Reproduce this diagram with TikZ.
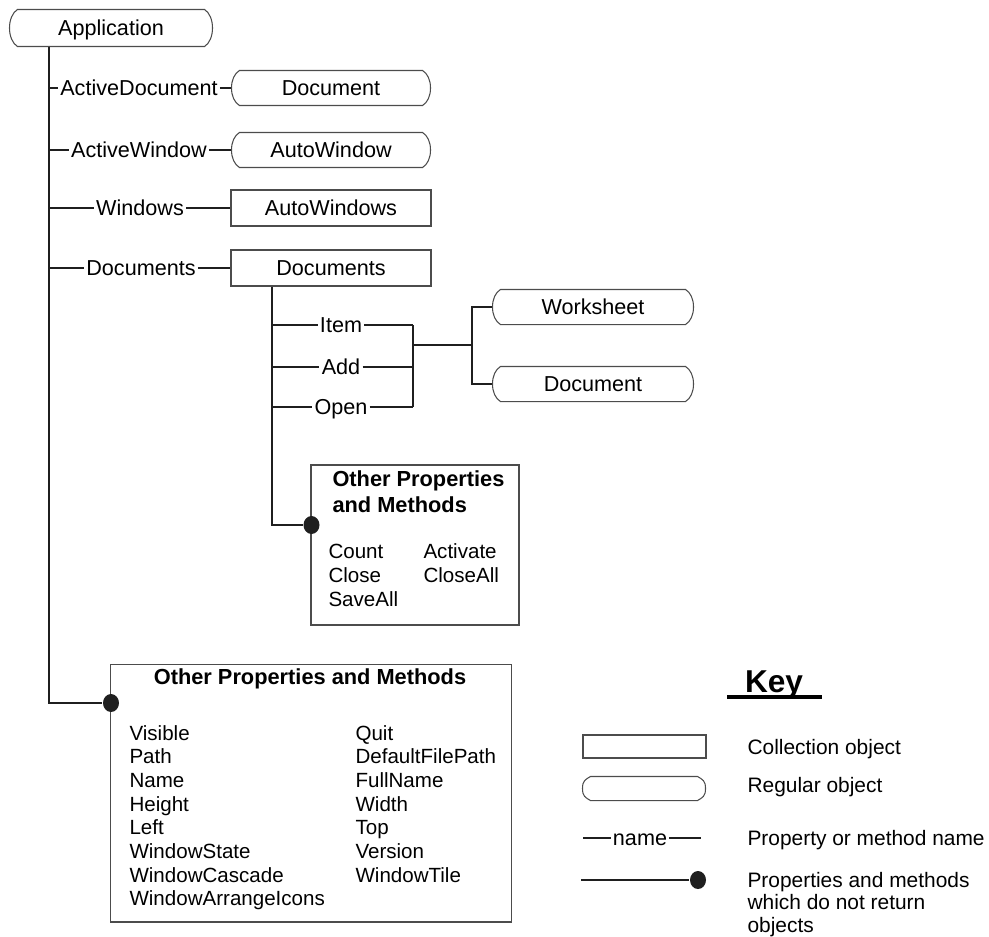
\documentclass[tikz,border=0pt]{standalone}
\usepackage{fontspec}
\setmainfont{Liberation Sans}
\usetikzlibrary{calc,shapes.geometric}
\definecolor{framegray}{gray}{0.3}
\definecolor{linegray}{gray}{0.12}
\newcommand\lblsize{\fontsize{12.3}{14}\selectfont}
\newcommand\lstsize{\fontsize{11.7}{13.5}\selectfont}
\newcommand\hdsize{\fontsize{12.4}{14.6}\selectfont\bfseries}
\newcommand\keysize{\fontsize{11.9}{13}\selectfont}

\begin{document}
\begin{tikzpicture}[x=0.02cm,y=-0.02cm,line width=0.6pt,
  lbl/.style={font=\lblsize,inner sep=1pt,text height=8.8pt,text depth=0pt},
  regobj/.style={lbl,inner sep=0pt,minimum width=3.96cm,minimum height=0.68cm},
  collobj/.style={lbl,draw=framegray,inner sep=0pt,minimum width=4cm,minimum height=0.72cm},
  frame/.style={draw=framegray},
  conn/.style={draw=linegray},
  lst/.style={font=\lstsize,anchor=base west,inner sep=0pt},
  hd/.style={font=\hdsize,inner sep=0pt},
  keytxt/.style={font=\keysize,anchor=west,inner sep=0pt,text height=8.5pt,text depth=0pt},
  pdot/.style={ellipse,fill=linegray,inner sep=0pt,minimum width=0.32cm,minimum height=0.36cm}]
\useasboundingbox (0,0) rectangle (989,936);

% objects
\node[regobj,minimum width=4.04cm,minimum height=0.72cm] (app) at (111,28) {Application};
\node[regobj] (adoc) at (331,88) {Document};
\node[regobj] (awin) at (331,150) {AutoWindow};
\node[collobj] (wins) at (331,208) {AutoWindows};
\node[collobj] (docs) at (331,268) {Documents};
\node[regobj,minimum width=4cm] (wks) at (593,307) {Worksheet};
\node[regobj,minimum width=4cm] (wdoc) at (593,384) {Document};

% property names off the main trunk
\node[lbl] (pad) at (139,88) {ActiveDocument};
\node[lbl] (paw) at (139,150) {ActiveWindow};
\node[lbl] (pwin) at (140,208) {Windows};
\node[lbl] (pdocs) at (141,268) {Documents};

% other properties boxes
\node[collobj,minimum width=4.16cm,minimum height=3.2cm] (ibox) at (415,545) {};
\node[collobj,minimum width=8.04cm,minimum height=5.16cm] (obox) at (311,793) {};
\node[pdot] (idot) at (311.5,525) {};
\node[pdot] (odot) at (111,703) {};

\coordinate (trunk) at (49,46);
\draw[conn] (trunk) -- (trunk |- odot) -- (odot);
\foreach \p/\o in {pad/adoc,paw/awin,pwin/wins,pdocs/docs}
  \draw[conn] (trunk |- \p) -- (\p) -- (\o);

% Documents collection
\node[lbl] (pitem) at (341,325) {Item};
\node[lbl] (padd) at (341,367) {Add};
\node[lbl] (popen) at (341,407) {Open};
\coordinate (dtrunk) at (272,0);
\coordinate (bar) at (413,345);
\coordinate (fork) at (472,345);
\draw[conn] (dtrunk |- docs.south) -- (dtrunk |- idot) -- (idot);
\foreach \p in {pitem,padd,popen}
  \draw[conn] (dtrunk |- \p) -- (\p) -- (bar |- \p);
\draw[conn] (bar |- pitem) -- (bar |- popen);
\draw[conn] (bar) -- (fork);
\draw[conn] (wks) -| (fork) |- (wdoc);

\node[hd,anchor=base west] (ititle) at (332,486) {Other Properties};
\node[hd,anchor=base west] (ititleb) at (332,512) {and Methods};
\foreach \t [count=\i from 0] in {Count,Close,SaveAll}
  \node[lst] (ia\i) at (328,558+24*\i) {\t};
\foreach \t [count=\i from 0] in {Activate,CloseAll}
  \node[lst] (ib\i) at (423,558+24*\i) {\t};

\node[hd,anchor=base] (otitle) at (310,684) {Other Properties and Methods};
\foreach \t [count=\i from 0] in {Visible,Path,Name,Height,Left,WindowState,WindowCascade,WindowArrangeIcons}
  \node[lst] (oa\i) at (129,740+23.7*\i) {\t};
\foreach \t [count=\i from 0] in {Quit,DefaultFilePath,FullName,Width,Top,Version,WindowTile}
  \node[lst] (ob\i) at (355,740+23.7*\i) {\t};

% key
\node[font=\fontsize{18}{20}\selectfont\bfseries,anchor=base,inner sep=0pt] (key) at (774,692) {Key};
\draw[line width=2.2pt] ($(key.base)+(-47,5)$) -- ($(key.base)+(48,5)$);
\node[collobj,minimum width=2.46cm,minimum height=0.46cm] (kcoll) at (644.5,746.5) {};
\node[regobj,minimum width=2.44cm,minimum height=0.46cm] (kreg) at (644,788.5) {};
\coordinate (kl) at (583,838);
\node[lbl] (kname) at (640,838) {name};
\coordinate (kr) at (701,838);
\draw[conn] (kl) -- (kname) -- (kr);
\coordinate (kd) at (581,880);
\node[pdot] (kdot) at (698,880) {};
\draw[conn] (kd) -- (kdot);
\node[keytxt] (kt1) at (747,747) {Collection object};
\node[keytxt] (kt2) at (747,785) {Regular object};
\node[keytxt] (kt3) at (747,838) {Property or method name};
\foreach \t [count=\i from 0] in {Properties and methods,which do not return,objects}
  \node[keytxt,anchor=base west] (kt4\i) at (747,887+22.5*\i) {\t};

% outlines of the regular objects
\foreach \n in {app,adoc,awin,wks,wdoc,kreg}
  \draw[frame] ($(\n.north west)+(8,0)$) -- ($(\n.north east)+(-8,0)$)
    .. controls +(5,3) and +(0,-8) .. (\n.east)
    .. controls +(0,8) and +(5,-3) .. ($(\n.south east)+(-8,0)$)
    -- ($(\n.south west)+(8,0)$)
    .. controls +(-5,-3) and +(0,8) .. (\n.west)
    .. controls +(0,-8) and +(-5,3) .. ($(\n.north west)+(8,0)$) -- cycle;
\end{tikzpicture}
\end{document}
